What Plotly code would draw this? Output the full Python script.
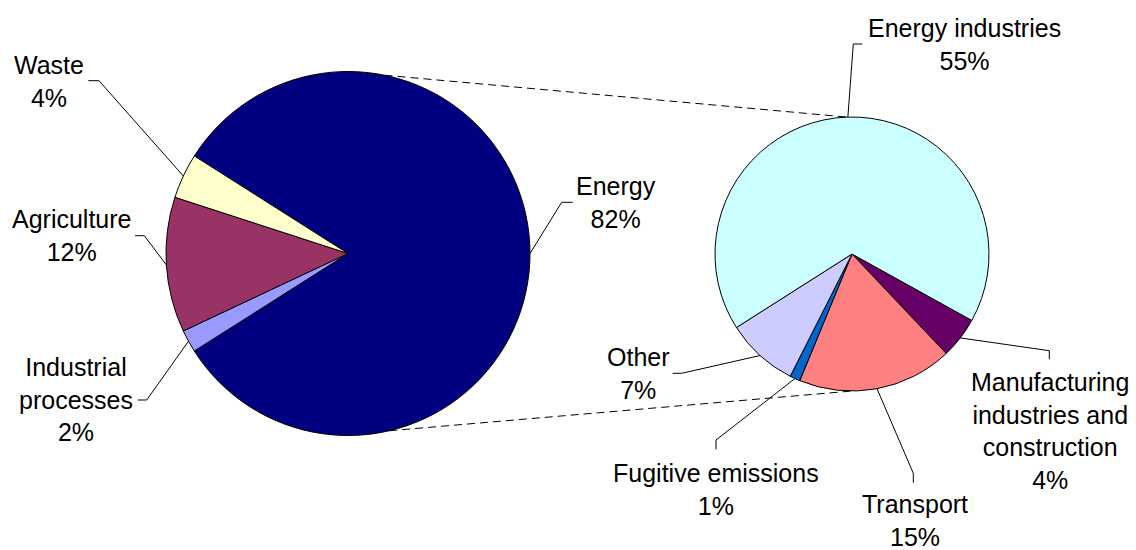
import math
import plotly.graph_objects as go

# ---- data -------------------------------------------------------------
main_labels = ["Energy", "Industrial processes", "Agriculture", "Waste"]
main_values = [82, 2, 12, 4]
main_colors = ["#000080", "#9999FF", "#993366", "#FFFFCC"]

energy_labels = ["Manufacturing industries and construction", "Transport",
                 "Fugitive emissions", "Other", "Energy industries"]
energy_values = [4, 15, 1, 7, 55]
energy_colors = ["#660066", "#FF8080", "#0066CC", "#CCCCFF", "#CCFFFF"]

display_names = {
    "Industrial processes": "Industrial<br>processes",
    "Manufacturing industries and construction":
        "Manufacturing<br>industries and<br>construction",
}

# ---- layout geometry (pixels) ------------------------------------------
W, H = 1136, 550
FONT = dict(family="Liberation Sans, Arial, sans-serif", size=25, color="#000000")

MAIN = dict(cx=348.0, cy=253.5, r=182.0, rotation=-57.6)
SUB = dict(cx=852.0, cy=254.0, r=137.0, rotation=119.0)

# label centre and leader-line elbow (start, end) for each slice
label_layout = {
    "Waste": ((48.5, 81.6), (88.3, 80.7), (99.0, 80.7)),
    "Agriculture": ((71.5, 235.9), (135.0, 235.7), (144.3, 235.7)),
    "Industrial processes": ((76.0, 399.9), (137.7, 400.0), (146.7, 400.0)),
    "Energy": ((615.5, 202.6), (572.7, 202.3), (561.7, 202.3)),
    "Energy industries": ((964.2, 44.3), (862.3, 44.0), (853.3, 44.0)),
    "Other": ((638.5, 373.3), (672.7, 373.3), (681.7, 373.3)),
    "Fugitive emissions": ((716.2, 489.3), (716.0, 449.3), (716.0, 440.0)),
    "Manufacturing industries and construction":
        ((1050.0, 430.8), (1049.3, 359.3), (1049.3, 350.7)),
    "Transport": ((914.5, 520.9), (913.3, 482.7), (913.3, 473.3)),
}

# connector angles (degrees, counter-clockwise from 3 o'clock)
CONNECT = [(78.4, 92.0), (-76.9, -90.0)]


def px(x):
    return x / W


def py(y):
    return 1 - y / H


def domain(p):
    return dict(x=[px(p["cx"] - p["r"]), px(p["cx"] + p["r"])],
                y=[py(p["cy"] + p["r"]), py(p["cy"] - p["r"])])


def mid_points(p, values):
    """Point on the rim at the middle of each slice (clockwise from the rotation angle)."""
    total = float(sum(values))
    pts, cum = [], 0.0
    for v in values:
        phi = math.radians(p["rotation"] + 360.0 * (cum + v / 2.0) / total)
        pts.append((p["cx"] + p["r"] * math.sin(phi), p["cy"] - p["r"] * math.cos(phi)))
        cum += v
    return pts


def rim(p, deg):
    a = math.radians(deg)
    return (p["cx"] + p["r"] * math.cos(a), p["cy"] - p["r"] * math.sin(a))


fig = go.Figure()

for p, labels, values, colors in [(MAIN, main_labels, main_values, main_colors),
                                  (SUB, energy_labels, energy_values, energy_colors)]:
    fig.add_trace(go.Pie(
        labels=labels, values=values, sort=False, direction="clockwise",
        rotation=p["rotation"], domain=domain(p),
        marker=dict(colors=colors, line=dict(color="#000000", width=1)),
        textinfo="none", hoverinfo="label+percent", showlegend=False,
    ))

shapes, annotations = [], []

# dashed connectors between the Energy slice and the breakdown pie
for a_main, a_sub in CONNECT:
    x0, y0 = rim(MAIN, a_main)
    x1, y1 = rim(SUB, a_sub)
    shapes.append(dict(type="line", xref="paper", yref="paper",
                       x0=px(x0), y0=py(y0), x1=px(x1), y1=py(y1),
                       line=dict(color="#000000", width=1, dash="8px,5px")))

# labels with elbow leader lines
for p, labels, values in [(MAIN, main_labels, main_values),
                          (SUB, energy_labels, energy_values)]:
    for name, val, anchor in zip(labels, values, mid_points(p, values)):
        (lx, ly), s0, s1 = label_layout[name]
        path = "M {} {} L {} {} L {} {}".format(
            px(s0[0]), py(s0[1]), px(s1[0]), py(s1[1]), px(anchor[0]), py(anchor[1]))
        shapes.append(dict(type="path", xref="paper", yref="paper", path=path,
                           line=dict(color="#000000", width=1)))
        annotations.append(dict(
            x=px(lx), y=py(ly), xref="paper", yref="paper",
            xanchor="center", yanchor="middle", align="center",
            text="{}<br>{}%".format(display_names.get(name, name), val),
            showarrow=False, font=FONT))

fig.update_layout(
    width=W, height=H, margin=dict(l=0, r=0, t=0, b=0),
    paper_bgcolor="#FFFFFF", plot_bgcolor="#FFFFFF",
    shapes=shapes, annotations=annotations, showlegend=False,
)

fig.write_html("out.html")
